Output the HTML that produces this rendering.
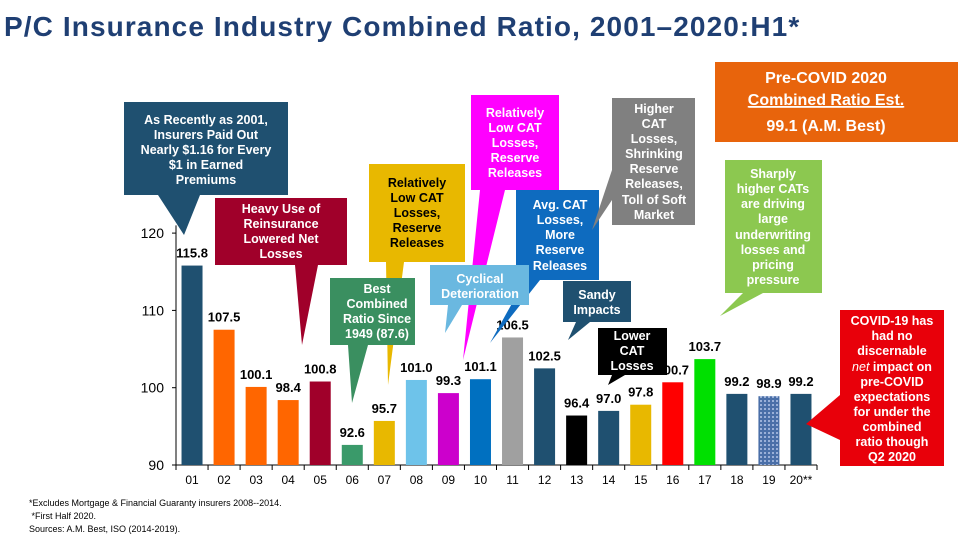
<!DOCTYPE html>
<html><head><meta charset="utf-8">
<style>
body{margin:0;background:#fff;}
#root{position:relative;width:960px;height:540px;overflow:hidden;font-family:"Liberation Sans",sans-serif;}
.title{position:absolute;left:4px;top:11px;font-size:28px;letter-spacing:1.1px;font-weight:bold;color:#1f3f73;white-space:nowrap;}
.foot{position:absolute;left:29px;top:497px;font-size:9px;line-height:13px;color:#000;}
svg text{font-family:"Liberation Sans",sans-serif;}
</style></head>
<body>
<div id="root">
<div class="title">P/C Insurance Industry Combined Ratio, 2001–2020:H1*</div>
<svg id="chart" width="960" height="540" style="position:absolute;left:0;top:0">
<defs>
<pattern id="pat" width="4" height="4" patternUnits="userSpaceOnUse"><rect width="4" height="4" fill="#4a6fa8"/><rect width="2" height="2" fill="#9ab0d8"/></pattern>
</defs>
<g id="axes"></g>
<g id="bars"></g>
<g id="callouts"></g>
</svg>
<div class="foot">*Excludes Mortgage &amp; Financial Guaranty insurers 2008--2014.<br>&nbsp;*First Half 2020.<br>Sources: A.M. Best, ISO (2014-2019).</div>
</div>
<script>
const categories=["01","02","03","04","05","06","07","08","09","10","11","12","13","14","15","16","17","18","19","20**"];
const values=[115.8,107.5,100.1,98.4,100.8,92.6,95.7,101.0,99.3,101.1,106.5,102.5,96.4,97.0,97.8,100.7,103.7,99.2,98.9,99.2];
const colors=["#1f5070","#ff6600","#ff6600","#ff6600","#a0002a","#3a9a6a","#e8b800","#6ec3ea","#cc00cc","#0070c0","#a0a0a0","#1f5070","#000000","#1f5070","#e8b800","#ff0000","#00e000","#1f5070","url(#pat)","#1f5070"];
const yTicks=[90,100,110,120];

const NS="http://www.w3.org/2000/svg";
const X0=176,X1=817,Y90=465,PX=7.73;
const step=(X1-X0)/categories.length;
function y(v){return Y90-(v-90)*PX;}
function xc(i){return X0+step*(i+0.5);}
function mk(tag,attrs,parent){const e=document.createElementNS(NS,tag);for(const k in attrs)e.setAttribute(k,attrs[k]);parent.appendChild(e);return e;}
const axes=document.getElementById('axes');
const yl=mk('line',{x1:X0,y1:y(121),x2:X0,y2:Y90,stroke:'#000','stroke-width':1},axes);


const xl=mk('line',{x1:X0,y1:Y90,x2:X1,y2:Y90,stroke:'#000','stroke-width':1},axes);


yTicks.forEach(t=>{
  const tx=mk('text',{x:164,y:y(t)+5,'text-anchor':'end','font-size':14,fill:'#000'},axes);
  tx.textContent=t;
  
  
  mk('line',{x1:X0-4,y1:y(t),x2:X0,y2:y(t),stroke:'#000'},axes);
});
for(let i=0;i<=categories.length;i++){mk('line',{x1:X0+step*i,y1:Y90,x2:X0+step*i,y2:Y90+5,stroke:'#000'},axes);}
const bars=document.getElementById('bars');
categories.forEach((c,i)=>{
  const v=values[i];
  const r=mk('rect',{x:xc(i)-10.5,y:y(v),width:21,height:Y90-y(v),fill:colors[i]},bars);
  
  
  const lb=mk('text',{x:xc(i),y:y(v)-8,'text-anchor':'middle','font-size':13,'font-weight':'bold',fill:'#000'},bars);
  lb.textContent=v.toFixed(1);
  
  
  const xt=mk('text',{x:xc(i),y:Y90+19,'text-anchor':'middle','font-size':12,fill:'#000'},bars);
  xt.textContent=c;
  
  
});
</script>
<svg width="960" height="540" style="position:absolute;left:0;top:0" font-family="Liberation Sans, sans-serif" font-weight="bold" text-anchor="middle">
<g>
<polygon points="124,102 288,102 288,195 200,195 184,235 158,195 124,195" fill="#1f5070"/>
<text fill="#fff" font-size="12.5"><tspan x="206" y="124">As Recently as 2001,</tspan><tspan x="206" y="139">Insurers Paid Out</tspan><tspan x="206" y="154">Nearly $1.16 for Every</tspan><tspan x="206" y="169">$1 in Earned</tspan><tspan x="206" y="184">Premiums</tspan></text></g>
<g>
<polygon points="215,198 347,198 347,265 318,265 302,345 295,265 215,265" fill="#a0002a"/>
<text fill="#fff" font-size="12.5"><tspan x="281" y="213">Heavy Use of</tspan><tspan x="281" y="228">Reinsurance</tspan><tspan x="281" y="243">Lowered Net</tspan><tspan x="281" y="258">Losses</tspan></text></g>
<g>
<polygon points="369,164 465,164 465,262 404,262 388,385 386,262 369,262" fill="#e8b800"/>
<text fill="#000" font-size="12.5"><tspan x="417" y="187">Relatively</tspan><tspan x="417" y="202">Low CAT</tspan><tspan x="417" y="217">Losses,</tspan><tspan x="417" y="232">Reserve</tspan><tspan x="417" y="247">Releases</tspan></text></g>
<g>
<polygon points="330,278 415,278 415,345 368,345 352,403 348,345 330,345" fill="#3a8f60"/>
<text fill="#fff" font-size="12.5"><tspan x="377" y="293">Best</tspan><tspan x="377" y="308">Combined</tspan><tspan x="377" y="323">Ratio Since</tspan><tspan x="377" y="338">1949 (87.6)</tspan></text></g>
<g>
<polygon points="471,95 559,95 559,190 505,190 463,360 480,190 471,190" fill="#ff00ff"/>
<text fill="#fff" font-size="12.5"><tspan x="515" y="117">Relatively</tspan><tspan x="515" y="132">Low CAT</tspan><tspan x="515" y="147">Losses,</tspan><tspan x="515" y="162">Reserve</tspan><tspan x="515" y="177">Releases</tspan></text></g>
<g>
<polygon points="516,190 599,190 599,280 540,280 490,343 525,280 516,280" fill="#0e6bbf"/>
<text fill="#fff" font-size="12.5"><tspan x="560" y="209">Avg. CAT</tspan><tspan x="560" y="224">Losses,</tspan><tspan x="560" y="239">More</tspan><tspan x="560" y="254">Reserve</tspan><tspan x="560" y="270">Releases</tspan></text></g>
<g>
<polygon points="430,265 529,265 529,305 462,305 445,333 448,305 430,305" fill="#6ab8e0"/>
<text fill="#fff" font-size="12.5"><tspan x="480" y="283">Cyclical</tspan><tspan x="480" y="298">Deterioration</tspan></text></g>
<g>
<polygon points="612,98 695,98 695,225 612,225 612,200 592,230 612,170" fill="#808080"/>
<text fill="#fff" font-size="12.5"><tspan x="654" y="113">Higher</tspan><tspan x="654" y="128">CAT</tspan><tspan x="654" y="143">Losses,</tspan><tspan x="654" y="158">Shrinking</tspan><tspan x="654" y="173">Reserve</tspan><tspan x="654" y="188">Releases,</tspan><tspan x="654" y="204">Toll of Soft</tspan><tspan x="654" y="219">Market</tspan></text></g>
<g>
<polygon points="563,281 631,281 631,322 590,322 568,340 576,322 563,322" fill="#1f5070"/>
<text fill="#fff" font-size="12.5"><tspan x="597" y="299">Sandy</tspan><tspan x="597" y="314">Impacts</tspan></text></g>
<g>
<polygon points="598,328 667,328 667,375 625,375 608,385 612,375 598,375" fill="#000"/>
<text fill="#fff" font-size="12.5"><tspan x="632" y="340">Lower</tspan><tspan x="632" y="355">CAT</tspan><tspan x="632" y="370">Losses</tspan></text></g>
<g>
<rect x="715" y="62" width="243" height="80" fill="#e8640c"/>
<text fill="#fff" font-size="16"><tspan x="826" y="83">Pre-COVID 2020</tspan><tspan x="826" y="105" text-decoration="underline">Combined Ratio Est.</tspan><tspan x="826" y="131">99.1 (A.M. Best)</tspan></text>
<line x1="749" y1="107" x2="903" y2="107" stroke="#fff" stroke-width="1.5"/></g>
<g>
<polygon points="725,160 822,160 822,293 763,293 720,316 743,293 725,293" fill="#8cc850"/>
<text fill="#fff" font-size="12.5"><tspan x="773" y="178">Sharply</tspan><tspan x="773" y="193">higher CATs</tspan><tspan x="773" y="208">are driving</tspan><tspan x="773" y="223">large</tspan><tspan x="773" y="239">underwriting</tspan><tspan x="773" y="254">losses and</tspan><tspan x="773" y="269">pricing</tspan><tspan x="773" y="284">pressure</tspan></text></g>
<g>
<polygon points="840,310 944,310 944,466 840,466 840,440 806,424 840,395" fill="#e8000a"/>
<text fill="#fff" font-size="12.5"><tspan x="892" y="325">COVID-19 has</tspan><tspan x="892" y="340">had no</tspan><tspan x="892" y="355">discernable</tspan><tspan x="892" y="371"><tspan font-style="italic" font-weight="normal">net</tspan> impact on</tspan><tspan x="892" y="386">pre-COVID</tspan><tspan x="892" y="401">expectations</tspan><tspan x="892" y="416">for under the</tspan><tspan x="892" y="431">combined</tspan><tspan x="892" y="446">ratio though</tspan><tspan x="892" y="461">Q2 2020</tspan></text></g>
</svg>
</body></html>
